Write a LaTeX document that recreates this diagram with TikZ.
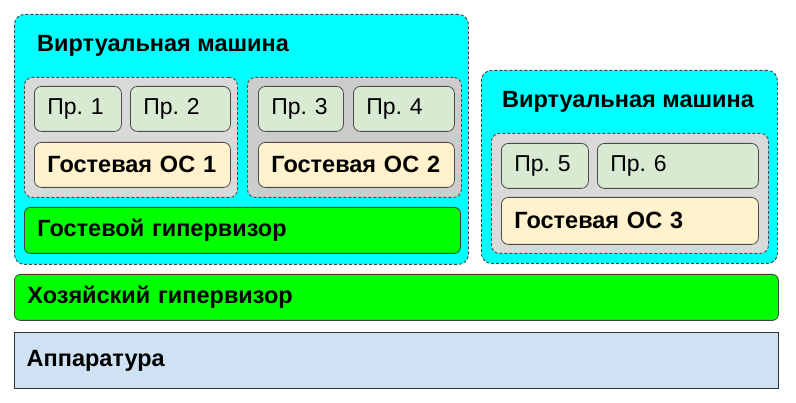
\documentclass[tikz,border=0pt]{standalone}
\usepackage{fontspec}
\setmainfont{Liberation Sans}
\definecolor{vmcyan}{HTML}{00FFFF}
\definecolor{grey}{HTML}{D9D9D9}
\definecolor{darkgrey}{HTML}{CCCCCC}
\definecolor{appgreen}{HTML}{D9EAD3}
\definecolor{osyellow}{HTML}{FFF2CC}
\definecolor{hypgreen}{HTML}{00FF00}
\definecolor{hwblue}{HTML}{CFE2F3}
\begin{document}
\begin{tikzpicture}[x=1pt,y=-1pt,
    box/.style={anchor=north west,inner xsep=13pt,inner ysep=0pt,align=left,
        font=\fontsize{23}{27}\selectfont},
    vm/.style={draw=black!75,fill=vmcyan,dash pattern=on 3pt off 2pt,line width=0.9pt,
        rounded corners=10pt,anchor=north west},
    guest/.style={draw=black!70,dash pattern=on 3pt off 2pt,line width=0.9pt,
        rounded corners=8pt,anchor=north west},
    app/.style={box,draw=black!70,fill=appgreen,rounded corners=7pt,line width=0.8pt,minimum height=45pt},
    os/.style={box,draw=black!70,fill=osyellow,rounded corners=7pt,line width=0.8pt,
        font=\fontsize{23.5}{27}\selectfont\bfseries},
    hyp/.style={box,draw=black!75,fill=hypgreen,rounded corners=6pt,line width=0.8pt,minimum height=46pt,
        font=\fontsize{23.5}{27}\selectfont\bfseries}]
    \useasboundingbox (0,0) rectangle (796,403);
    % virtual machines
    \node[vm,minimum width=454pt,minimum height=250pt] (vm1) at (14,14) {};
    \node[vm,minimum width=296pt,minimum height=193pt] (vm2) at (481,70) {};
    \node[anchor=west,inner sep=0pt,font=\fontsize{23.5}{27}\selectfont\bfseries] (title1) at (37,46) {Виртуальная машина};
    \node[inner sep=0pt,font=\fontsize{23.5}{27}\selectfont\bfseries] (title2) at (628,102) {Виртуальная машина};
    % guest systems
    \foreach \n/\x/\y/\w/\c in {1/24/77/213/grey, 2/247/77/214/darkgrey, 3/491/133/277/grey}
    {
        \node[guest,fill=\c,minimum width=\w pt,minimum height=120pt] (guest\n) at (\x,\y) {};
    }
    % programs
    \foreach \n/\x/\y/\tw in {1/34/86/61, 2/130/86/74, 3/258/86/59, 4/353/86/75, 5/501/143/61, 6/597/143/135}
    {
        \node[app,text width=\tw pt] (app\n) at (\x,\y) {Пр.~\n};
    }
    \foreach \n/\x/\y/\tw/\h in {1/34/142/170/45, 2/258/142/170/45, 3/501/197/231/47}
    {
        \node[os,text width=\tw pt,minimum height=\h pt] (os\n) at (\x,\y) {Гостевая ОС \n};
    }
    % hypervisors and hardware
    \node[hyp,text width=410pt] (ghyp) at (24,207) {Гостевой гипервизор};
    \node[hyp,text width=738pt] (hhyp) at (14,274) {Хозяйский гипервизор};
    \node[box,draw=black!80,fill=hwblue,line width=1.3pt,text width=740pt,inner xsep=12pt,minimum height=56pt,
        font=\fontsize{23.5}{27}\selectfont\bfseries] (hw) at (14,332) {Аппаратура};
\end{tikzpicture}
\end{document}
